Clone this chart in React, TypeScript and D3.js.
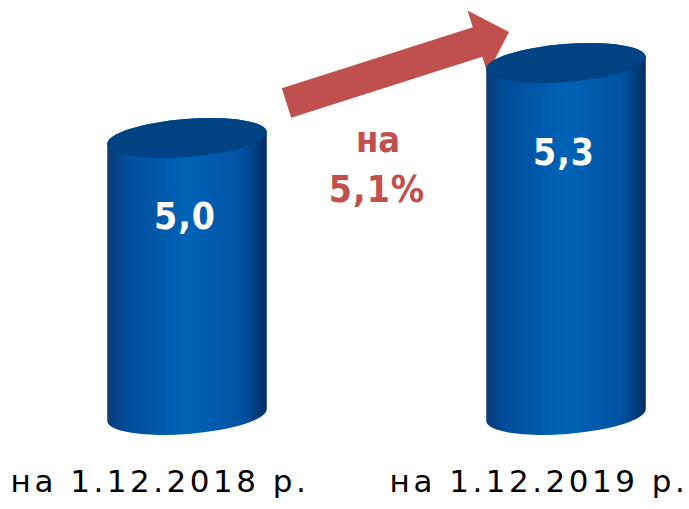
import React from "react";
import * as d3 from "d3";

const categories = ["на 1.12.2018 р.", "на 1.12.2019 р."];
const values = [5.0, 5.3];
const valueLabels = ["5,0", "5,3"];
const changeLabels = ["на", "5,1%"];

const W = 689;
const H = 509;
const RX = 80;
const RY = 19;
const TILT = -4.5;

const Cylinder = ({cx, top, bottom, label}: {cx: number; top: number; bottom: number; label: string}) => {
  const a = (TILT * Math.PI) / 180;
  const dx = RX * Math.cos(a);
  const dy = RX * Math.sin(a);
  const body = `M${cx - dx},${bottom - dy} A${RX},${RY} ${TILT} 0 0 ${cx + dx},${bottom + dy}
    L${cx + dx},${top + dy} A${RX},${RY} ${TILT} 0 0 ${cx - dx},${top - dy} Z`;
  const h = bottom - top;
  return (
    <g>
      <path d={body} fill="url(#cylBody)"/>
      <ellipse cx={cx} cy={top} rx={RX} ry={RY} fill="#004282"
               transform={`rotate(${TILT} ${cx} ${top})`}/>
      <text x={cx - 2} y={top + 50 + h * 0.147} textAnchor="middle" fill="white"
            fontFamily="'DejaVu Sans Condensed', 'DejaVu Sans', sans-serif" fontWeight="bold" fontSize={37}
            letterSpacing={1}>
        {label}
      </text>
    </g>
  );
};

export default function App() {
  const x = d3.scalePoint<string>().domain(categories).range([187, 566]);
  const y = d3.scaleLinear().domain([3.892, 5.3]).range([415, 63]);

  // arrow from start to tip
  const start: [number, number] = [286.5, 103];
  const tip: [number, number] = [509, 32];
  const ang = (Math.atan2(tip[1] - start[1], tip[0] - start[0]) * 180) / Math.PI;
  const len = Math.hypot(tip[0] - start[0], tip[1] - start[1]);
  const shaft = 15.5, head = 33, headLen = 33;
  const arrow = d3.line()([
    [0, -shaft], [len - headLen, -shaft], [len - headLen, -head], [len, 0],
    [len - headLen, head], [len - headLen, shaft], [0, shaft],
  ]) + "Z";

  return (
    <svg width={W} height={H} style={{position: "absolute", left: 0, top: 0}}>
      <defs>
        <linearGradient id="cylBody" x1="0" x2="1" y1="0" y2="0">
          <stop offset="0%" stopColor="#0a3a78"/>
          <stop offset="12%" stopColor="#004d9a"/>
          <stop offset="50%" stopColor="#0063b6"/>
          <stop offset="85%" stopColor="#0052a2"/>
          <stop offset="100%" stopColor="#012c62"/>
        </linearGradient>
      </defs>
      <rect width={W} height={H} fill="white"/>
      <path d={arrow} fill="#c0504d" transform={`translate(${start[0]} ${start[1]}) rotate(${ang})`}/>
      {categories.map((c, i) => (
        <Cylinder key={c} cx={x(c)!} top={y(values[i])} bottom={y.range()[0]} label={valueLabels[i]}/>
      ))}
      <text x={378} y={152} textAnchor="middle" fill="#c0504d"
            fontFamily="'DejaVu Sans Condensed', 'DejaVu Sans', sans-serif" fontWeight="bold" fontSize={36}>
        {changeLabels[0]}
      </text>
      <text x={377} y={202} textAnchor="middle" fill="#c0504d"
            fontFamily="'DejaVu Sans Condensed', 'DejaVu Sans', sans-serif" fontWeight="bold" fontSize={37}
            letterSpacing={1}>
        {changeLabels[1]}
      </text>
      {categories.map(c => (
        <text key={c} x={x(c)! - 27} y={492} textAnchor="middle" fill="#000"
              fontFamily="'DejaVu Sans', sans-serif" fontSize={31} letterSpacing={3.5}>
          {c}
        </text>
      ))}
    </svg>
  );
}
